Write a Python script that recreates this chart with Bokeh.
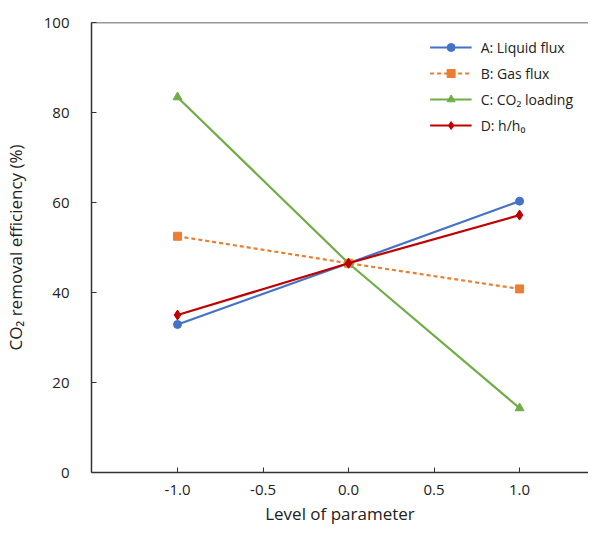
from bokeh.plotting import figure
from bokeh.models import FixedTicker, Legend, LegendItem, Range1d, Span, CustomJSTickFormatter
from bokeh.embed import file_html
from bokeh.resources import INLINE

levels = [-1.0, 0.0, 1.0]
liquid_flux = [32.9, 46.5, 60.3]
gas_flux = [52.5, 46.5, 40.8]
co2_loading = [83.4, 46.5, 14.3]
h_ratio = [35.0, 46.5, 57.2]

x_ticks = [-1.0, -0.5, 0.0, 0.5, 1.0]
y_ticks = [0, 20, 40, 60, 80, 100]

FONT = "Open Sans"

p = figure(width=588, height=528, output_backend="svg", toolbar_location=None,
           x_range=Range1d(-1.503, 1.403), y_range=Range1d(0, 100),
           min_border_left=91, min_border_top=22, min_border_right=0, min_border_bottom=56)
p.grid.visible = False
p.outline_line_color = None
p.background_fill_color = "white"

series = [
    ("A: Liquid flux", liquid_flux, "#4472C4", "circle", "solid", 8),
    ("B: Gas flux", gas_flux, "#ED7D31", "square", "4 3", 8),
    ("C: CO\u2082 loading", co2_loading, "#70AD47", "triangle", "solid", 9),
    ("D: h/h\u2080", h_ratio, "#C00000", "diamond", "solid", 10),
]
items = []
for label, ys, color, marker, dash, size in series:
    l = p.line(levels, ys, line_color=color, line_width=2.2, line_dash=dash)
    s = p.scatter(levels, ys, marker=marker, size=size, fill_color=color, line_color=color)
    items.append(LegendItem(label=label, renderers=[l, s]))

legend = Legend(items=items, location="top_right", border_line_color=None,
                background_fill_alpha=0, label_text_font=FONT, label_text_font_size="14px",
                label_text_color="#222222", glyph_width=42, glyph_height=20, spacing=6,
                label_standoff=9, margin=15, padding=4, label_height=20)
p.add_layout(legend)

p.add_layout(Span(location=100, dimension="width", line_color="#333333", line_width=1.5))

p.xaxis.ticker = FixedTicker(ticks=x_ticks)
p.yaxis.ticker = FixedTicker(ticks=y_ticks)
p.xaxis[0].formatter = CustomJSTickFormatter(code="return tick.toFixed(1);")

for ax in (p.xaxis[0], p.yaxis[0]):
    ax.major_tick_in = 5
    ax.major_tick_out = 0
    ax.minor_tick_line_color = None
    ax.axis_line_color = "#333333"
    ax.axis_line_width = 1.5
    ax.major_tick_line_color = "#333333"
    ax.major_label_text_font = FONT
    ax.major_label_text_font_size = "15px"
    ax.major_label_text_color = "#222222"
    ax.axis_label_text_font = FONT
    ax.axis_label_text_font_size = "17px"
    ax.axis_label_text_font_style = "normal"
    ax.axis_label_text_color = "#222222"

p.xaxis[0].axis_label = "Level of parameter"
p.yaxis[0].axis_label = "CO\u2082 removal efficiency (%)"
p.xaxis[0].major_label_standoff = 12
p.yaxis[0].major_label_standoff = 22
p.xaxis[0].axis_label_standoff = 4
p.yaxis[0].axis_label_standoff = 14

open("out.html", "w").write(file_html(p, INLINE))
